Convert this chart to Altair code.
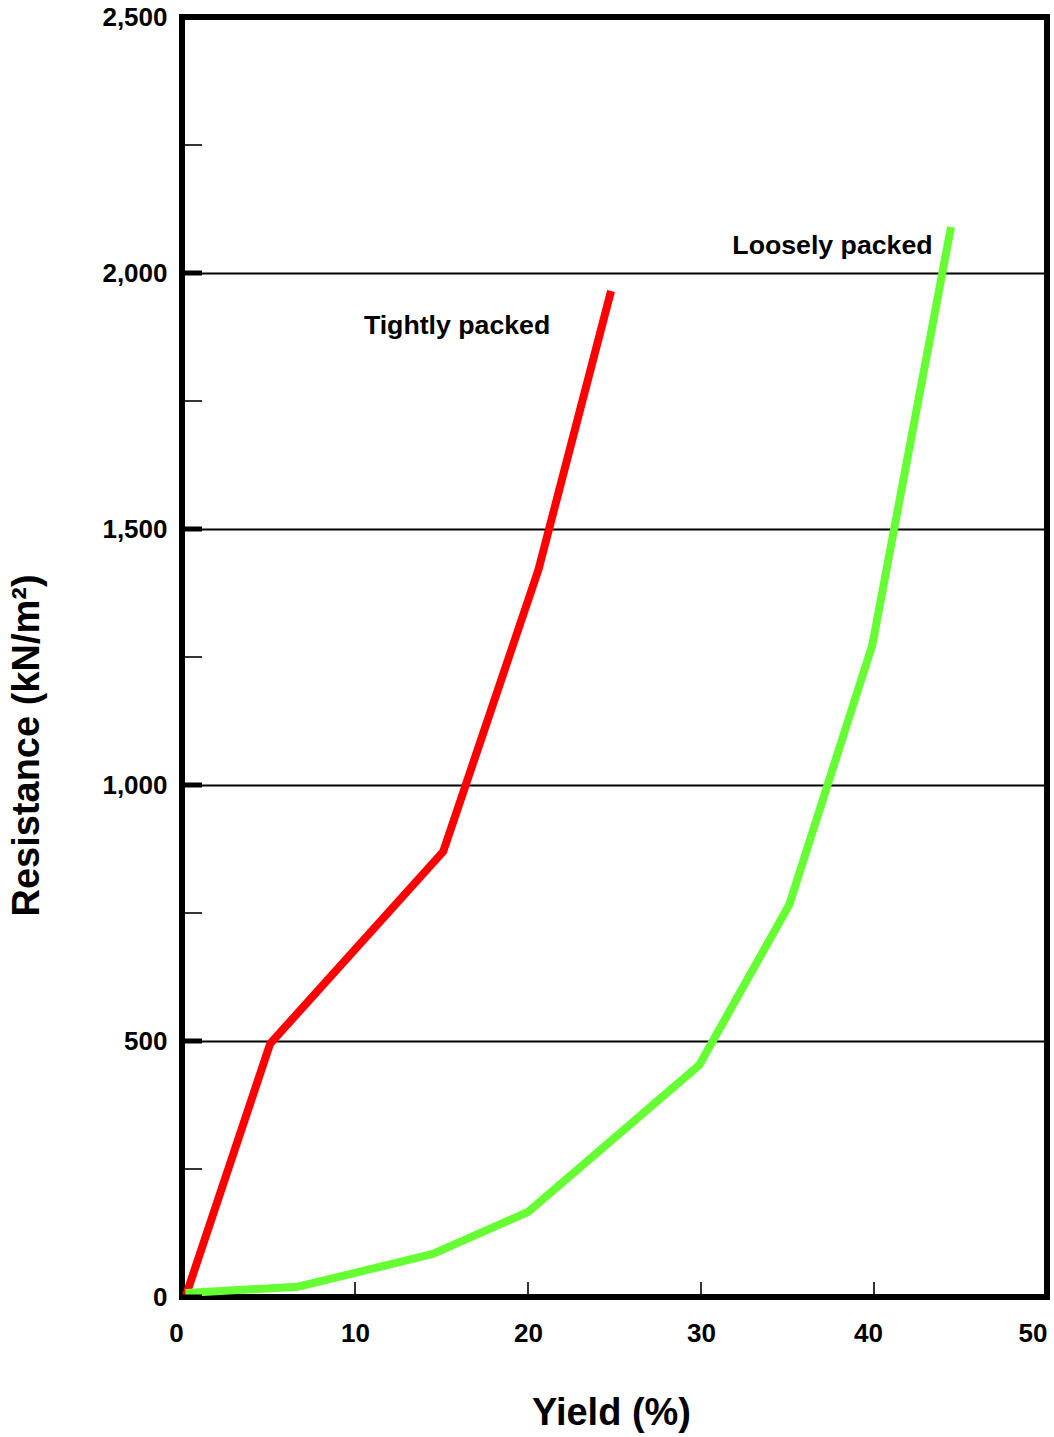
import altair as alt
import pandas as pd

# Resistance against yield for two packing densities
tight_yield = [0.2, 5.1, 15.1, 20.6, 24.8]
tight_res = [0, 495, 870, 1420, 1965]

loose_yield = [0.2, 6.7, 14.5, 20.0, 29.9, 35.1, 39.9, 44.45]
loose_res = [8, 20, 84, 166, 453, 766, 1273, 2090]

series_names = ["Tightly packed", "Loosely packed"]
series_colors = ["#ff0000", "#66ff33"]

label_text = ["Tightly packed", "Loosely packed"]
label_x = [15.9, 37.6]
label_y = [1897, 2053]

y_major = [0, 500, 1000, 1500, 2000, 2500]
y_minor = [250, 750, 1250, 1750, 2250]
x_ticks = [10, 20, 30, 40]
x_labels = [0, 10, 20, 30, 40, 50]

W, H = 865, 1280
FONT = "Liberation Sans"

curves = pd.DataFrame(
    {
        "yield": tight_yield + loose_yield,
        "res": tight_res + loose_res,
        "series": [series_names[0]] * len(tight_yield) + [series_names[1]] * len(loose_yield),
        "order": list(range(len(tight_yield))) + list(range(len(loose_yield))),
    }
)
labels = pd.DataFrame({"text": label_text, "yield": label_x, "res": label_y})

xs = alt.Scale(domain=[0, 50], nice=False, zero=False)
ys = alt.Scale(domain=[0, 2500], nice=False, zero=False)

lines = (
    alt.Chart(curves)
    .mark_line(strokeWidth=8, strokeCap="butt", strokeJoin="miter", clip=True)
    .encode(
        x=alt.X(
            "yield:Q",
            scale=xs,
            axis=alt.Axis(
                title="Yield (%)",
                values=x_labels,
                format="d",
                ticks=False,
                domain=False,
                grid=False,
                labelFont=FONT,
                labelFontWeight="bold",
                labelFontSize=26,
                labelColor="black",
                labelPadding=23,
                labelFlush=False,
                labelAlign={"condition": {"test": "datum.value == 50", "value": "right"}, "value": "center"},
                labelOffset={"condition": {"test": "datum.value == 0 || datum.value == 40", "value": -6}, "value": 0},
                titleFont=FONT,
                titleFontWeight="bold",
                titleFontSize=38,
                titleColor="black",
                titleX=429,
                titleY=116,
                titleBaseline="middle",
            ),
        ),
        y=alt.Y(
            "res:Q",
            scale=ys,
            axis=alt.Axis(
                title="Resistance (kN/m²)",
                values=y_major,
                format=",d",
                ticks=False,
                domain=False,
                grid=True,
                gridColor="black",
                gridWidth=1.8,
                gridOpacity=1,
                labelFont=FONT,
                labelFontWeight="bold",
                labelFontSize=26,
                labelColor="black",
                labelPadding=15,
                labelFlush=False,
                titleFont=FONT,
                titleFontWeight="bold",
                titleFontSize=38,
                titleColor="black",
                titleAngle=270,
                titleAlign="center",
                titleBaseline="middle",
                titleX=-155,
                titleY=728,
            ),
        ),
        color=alt.Color(
            "series:N",
            scale=alt.Scale(domain=series_names, range=series_colors),
            legend=None,
        ),
        detail="series:N",
        order="order:Q",
    )
)

text = (
    alt.Chart(labels)
    .mark_text(font=FONT, fontWeight="bold", fontSize=26.7, color="black", align="center", baseline="middle")
    .encode(
        x=alt.X("yield:Q", scale=xs),
        y=alt.Y("res:Q", scale=ys),
        text="text:N",
    )
)

major_ticks = (
    alt.Chart(pd.DataFrame({"res": y_major}))
    .mark_rule(color="black", strokeWidth=5)
    .encode(y=alt.Y("res:Q", scale=ys), x=alt.value(0), x2=alt.value(20))
)

minor_ticks = (
    alt.Chart(pd.DataFrame({"res": y_minor}))
    .mark_rule(color="black", strokeWidth=1.6)
    .encode(y=alt.Y("res:Q", scale=ys), x=alt.value(0), x2=alt.value(20))
)

bottom_ticks = (
    alt.Chart(pd.DataFrame({"yield": x_ticks}))
    .mark_rule(color="black", strokeWidth=1.6)
    .encode(x=alt.X("yield:Q", scale=xs), y=alt.value(H), y2=alt.value(H - 15))
)

chart = (
    alt.layer(lines, major_ticks, minor_ticks, bottom_ticks, text)
    .properties(
        width=W,
        height=H,
        autosize=alt.AutoSizeParams(type="none"),
        padding={"left": 182, "top": 17, "right": 7, "bottom": 140},
        background="white",
    )
    .configure_view(stroke="black", strokeWidth=6)
)

chart.save("out.html", embed_options={"renderer": "svg", "actions": False})
